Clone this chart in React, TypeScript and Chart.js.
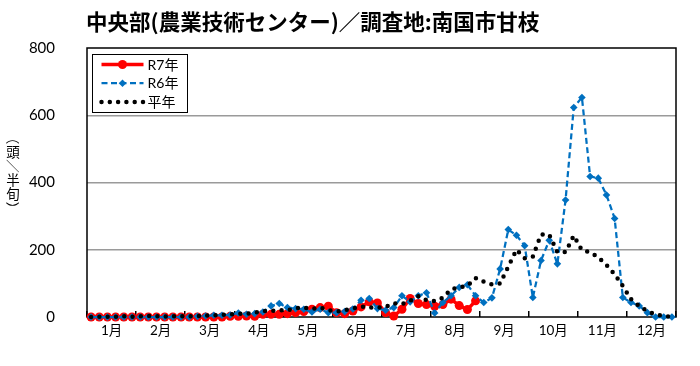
import React, { useEffect, useRef } from 'react';
import { Chart, registerables } from 'chart.js';

Chart.register(...registerables);

const TITLE = '中央部(農業技術センター)／調査地:南国市甘枝';
const Y_TITLE = '（頭／半旬）';
const MONTHS = ['1月', '2月', '3月', '4月', '5月', '6月', '7月', '8月', '9月', '10月', '11月', '12月'];
const SERIES_LABELS = ['R7年', 'R6年', '平年'];
const Y_TICKS = [0, 200, 400, 600, 800];

// 72 half-decade (半旬) values, 6 per month
const r7: (number | null)[] = [
  0, 0, 0, 0, 0, 0,
  0, 0, 0, 0, 0, 0,
  0, 0, 0, 0, 0, 2,
  2, 3, 2, 8, 8, 8,
  10, 13, 16, 23, 28, 32,
  13, 10, 18, 30, 45, 42,
  13, 3, 23, 55, 40, 37,
  32, 37, 53, 34, 22, 48,
  null, null, null, null, null, null,
  null, null, null, null, null, null,
  null, null, null, null, null, null,
  null, null, null, null, null, null,
];

const r6: number[] = [
  0, 0, 0, 0, 0, 0,
  0, 0, 0, 0, 0, 0,
  0, 2, 3, 5, 5, 6,
  12, 8, 10, 15, 33, 40,
  28, 25, 23, 15, 23, 13,
  13, 16, 24, 50, 55, 25,
  20, 28, 63, 45, 63, 72,
  12, 43, 63, 88, 96, 63,
  43, 57, 143, 260, 243, 212,
  58, 168, 228, 158, 348, 623,
  653, 418, 413, 363, 293, 58,
  43, 33, 13, 0, 0, 0,
];

const avg: number[] = [
  0, 1, 1, 1, 2, 1,
  2, 3, 2, 1, 2, 2,
  2, 3, 4, 5, 6, 8,
  10, 10, 13, 18, 18, 20,
  20, 26, 28, 24, 28, 20,
  16, 20, 25, 31, 28, 28,
  30, 41, 38, 48, 62, 50,
  47, 57, 82, 88, 93, 116,
  105, 97, 100, 150, 200, 175,
  180, 245, 245, 193, 193, 242,
  198, 193, 178, 155, 127, 92,
  53, 33, 17, 8, 3, 0,
];

const toXY = (arr: (number | null)[]) => arr.map((v, i) => ({ x: i + 0.5, y: v }));

const CJK = '"Noto Sans CJK JP"';

const framePlugin = {
  id: 'frame',
  beforeDatasetsDraw(chart: any) {
    const { ctx, chartArea: a } = chart;
    ctx.save();
    ctx.strokeStyle = '#000';
    ctx.lineWidth = 1.5;
    ctx.strokeRect(a.left, a.top, a.right - a.left, a.bottom - a.top);
    ctx.restore();
  },
};

const textPlugin = {
  id: 'texts',
  afterDraw(chart: any) {
    const { ctx, chartArea: a } = chart;
    ctx.save();
    // Title
    ctx.fillStyle = '#000';
    ctx.font = `bold 21.5px ${CJK}`;
    ctx.textBaseline = 'middle';
    ctx.textAlign = 'left';
    ctx.fillText(TITLE, a.left - 1, 22);

    // Vertical y-axis title (characters stacked, brackets/slash turned)
    ctx.font = `13.5px ${CJK}`;
    ctx.textAlign = 'center';
    ctx.textBaseline = 'middle';
    const chars = Array.from(Y_TITLE);
    const step = 14.2;
    const cx = 13;
    const cy = a.top + 125;
    const y0 = cy - ((chars.length - 1) * step) / 2;
    chars.forEach((ch, k) => {
      const yy = y0 + k * step;
      const rotate = ch === '（' || ch === '）' || ch === '／';
      ctx.save();
      ctx.translate(cx, yy);
      if (rotate) ctx.rotate(Math.PI / 2);
      ctx.fillText(ch, 0, 0);
      ctx.restore();
    });
    ctx.restore();
  },
};

const legendPlugin = {
  id: 'boxLegend',
  afterDatasetsDraw(chart: any) {
    const { ctx, chartArea: a } = chart;
    const bx = a.left + 5.5;
    const by = a.top + 6.5;
    const bw = 95;
    const bh = 58;
    ctx.save();
    ctx.fillStyle = '#fff';
    ctx.fillRect(bx, by, bw, bh);
    ctx.strokeStyle = '#000';
    ctx.lineWidth = 1;
    ctx.strokeRect(bx, by, bw, bh);
    chart.data.datasets.forEach((ds: any, k: number) => {
      const y = by + 10 + k * 18.7;
      const x1 = bx + 9;
      const x2 = bx + 51;
      ctx.save();
      ctx.strokeStyle = ds.borderColor;
      ctx.lineWidth = ds.borderWidth;
      ctx.lineCap = ds.borderCapStyle || 'butt';
      ctx.setLineDash(ds.borderDash || []);
      ctx.beginPath();
      ctx.moveTo(x1, y);
      ctx.lineTo(x2, y);
      ctx.stroke();
      ctx.setLineDash([]);
      const r = ds.pointRadius || 0;
      if (r > 0) {
        const mx = (x1 + x2) / 2;
        ctx.fillStyle = ds.pointBackgroundColor;
        ctx.beginPath();
        if (ds.pointStyle === 'rectRot') {
          ctx.moveTo(mx, y - r);
          ctx.lineTo(mx + r, y);
          ctx.lineTo(mx, y + r);
          ctx.lineTo(mx - r, y);
          ctx.closePath();
        } else {
          ctx.arc(mx, y, r, 0, Math.PI * 2);
        }
        ctx.fill();
      }
      ctx.restore();
      ctx.fillStyle = '#000';
      ctx.font = `14px Lato, ${CJK}`;
      ctx.textBaseline = 'middle';
      ctx.textAlign = 'left';
      ctx.fillText(ds.label, bx + 55, y + 0.5);
    });
    ctx.restore();
  },
};

export default function App() {
  const ref = useRef<HTMLCanvasElement | null>(null);

  useEffect(() => {
    if (!ref.current) return;
    const chart = new Chart(ref.current, {
      type: 'line',
      data: {
        datasets: [
          {
            label: SERIES_LABELS[0],
            data: toXY(r7),
            borderColor: '#FF0000',
            backgroundColor: '#FF0000',
            pointBackgroundColor: '#FF0000',
            pointBorderColor: '#FF0000',
            borderWidth: 3.5,
            pointRadius: 4.5,
            pointBorderWidth: 0,
            pointStyle: 'circle',
            spanGaps: false,
            clip: false,
            order: 3,
          } as any,
          {
            label: SERIES_LABELS[1],
            data: toXY(r6),
            borderColor: '#0070C0',
            backgroundColor: '#0070C0',
            pointBackgroundColor: '#0070C0',
            pointBorderColor: '#0070C0',
            borderWidth: 2.25,
            borderDash: [6, 3.5],
            pointRadius: 3.8,
            pointBorderWidth: 0,
            pointStyle: 'rectRot',
            clip: false,
            order: 2,
          } as any,
          {
            label: SERIES_LABELS[2],
            data: toXY(avg),
            borderColor: '#000000',
            backgroundColor: '#000000',
            pointBackgroundColor: '#000000',
            borderWidth: 4.5,
            borderDash: [0, 8.3],
            borderCapStyle: 'round',
            pointRadius: 0,
            clip: false,
            order: 1,
          } as any,
        ],
      },
      options: {
        responsive: false,
        animation: false,
        events: [],
        layout: { padding: { top: 48, right: 24, bottom: 0, left: 0 } },
        plugins: {
          legend: { display: false },
          title: { display: false },
          tooltip: { enabled: false },
        },
        elements: { line: { tension: 0 } },
        scales: {
          x: {
            type: 'linear',
            min: 0,
            max: 72,
            afterBuildTicks: (s: any) => {
              s.ticks = Array.from({ length: MONTHS.length * 2 + 1 }, (_, k) => ({ value: k * 3 }));
            },
            afterFit: (s: any) => {
              s.height = 49;
            },
            ticks: {
              autoSkip: false,
              maxRotation: 0,
              minRotation: 0,
              padding: 12,
              color: '#000',
              font: { family: `Lato, ${CJK}`, size: 13.5 },
              callback: (v: any) => (v % 6 === 3 ? MONTHS[(v - 3) / 6] : ''),
            },
            grid: {
              drawOnChartArea: false,
              drawTicks: true,
              tickLength: -6,
              lineWidth: 1.5,
              color: (c: any) => (c.tick && c.tick.value % 6 === 0 ? '#000' : 'rgba(0,0,0,0)'),
            },
            border: { display: false },
          },
          y: {
            min: 0,
            max: 800,
            afterBuildTicks: (s: any) => {
              s.ticks = Y_TICKS.map((v) => ({ value: v }));
            },
            afterFit: (s: any) => {
              s.width = 87;
            },
            ticks: {
              padding: 32,
              color: '#000',
              font: { family: 'Lato', size: 15 },
            },
            grid: {
              drawTicks: false,
              lineWidth: 1.5,
              color: (c: any) =>
                c.tick && (c.tick.value === 0 || c.tick.value === 800) ? 'rgba(0,0,0,0)' : '#9A9A9A',
            },
            border: { display: false },
          },
        },
      },
      plugins: [framePlugin, legendPlugin, textPlugin],
    });
    return () => chart.destroy();
  }, []);

  return (
    <div style={{ position: 'fixed', left: 0, top: 0, width: 700, height: 366, background: '#fff' }}>
      <canvas ref={ref} width={700} height={366} />
    </div>
  );
}
